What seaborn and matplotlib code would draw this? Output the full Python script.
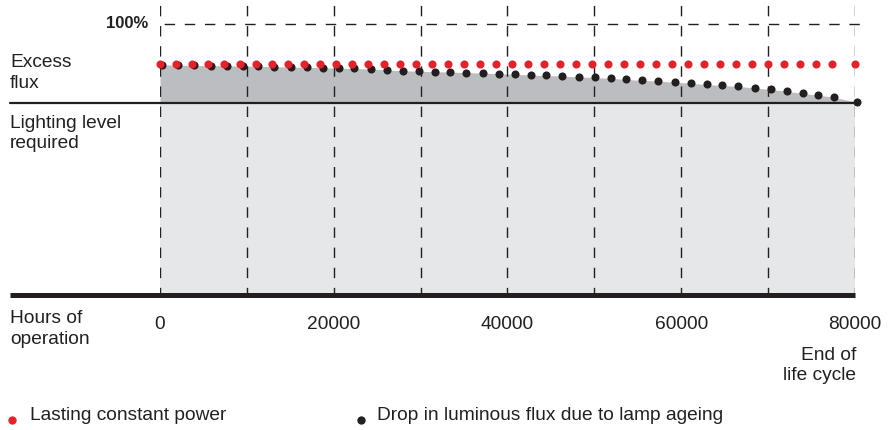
import matplotlib
matplotlib.use("Agg")
import matplotlib.pyplot as plt
import matplotlib.transforms as mtransforms
from matplotlib.lines import Line2D
import pandas as pd
import seaborn as sns

# ── Data ─────────────────────────────────────────────────────────────────────
hours = [0, 1840, 3680, 5530, 7370, 9210, 11050, 12890, 14740, 16580, 18420,
         20260, 22100, 23950, 25790, 27630, 29470, 31310, 33150, 34990, 36840,
         38680, 40520, 42360, 44200, 46040, 47890, 49730, 51570, 53410, 55250,
         57090, 58940, 60780, 62620, 64460, 66300, 68150, 69990, 71830, 73670,
         75510, 77350, 80000]

# constant-power luminaire: flux stays at the same level (% of 100% line)
constant_power = [85.2, 85.2, 85.2, 85.2, 85.2, 85.2, 85.2, 85.2, 85.2, 85.2, 85.2,
                  85.2, 85.2, 85.2, 85.2, 85.2, 85.2, 85.2, 85.2, 85.2, 85.2, 85.2,
                  85.2, 85.2, 85.2, 85.2, 85.2, 85.2, 85.2, 85.2, 85.2, 85.2, 85.2,
                  85.2, 85.2, 85.2, 85.2, 85.2, 85.2, 85.2, 85.2, 85.2, 85.2, 85.2]

# flux drop due to lamp ageing
lamp_ageing = [84.9, 84.8, 84.7, 84.6, 84.6, 84.5, 84.4, 84.3, 84.1, 84.0, 83.9,
               83.7, 83.6, 83.4, 83.1, 82.8, 82.6, 82.4, 82.3, 82.1, 81.9, 81.7,
               81.5, 81.2, 81.0, 80.8, 80.5, 80.3, 80.0, 79.6, 79.2, 79.0, 78.6,
               78.2, 77.7, 77.4, 77.0, 76.5, 75.9, 75.3, 74.5, 73.8, 73.1, 71.3]

required_level = 70.8
full_level = 100
grid_hours = [0, 10000, 20000, 30000, 40000, 50000, 60000, 70000, 80000]
tick_hours = [0, 20000, 40000, 60000, 80000]
tick_labels = ["0", "20000", "40000", "60000", "80000"]

# ── Style ────────────────────────────────────────────────────────────────────
RED = "#e8202a"
BLACK = "#231f20"
DARK_GREY = "#bcbdc0"
LIGHT_GREY = "#e6e7e8"
FONT = 13.8
W, H = 895, 430

sns.set_theme(style="white")
plt.rcParams["font.family"] = ["Liberation Sans", "DejaVu Sans"]

fig = plt.figure(figsize=(W / 100, H / 100), dpi=100)
# axes box in pixels: x 160..855, y 0..295 (from top)
ax = fig.add_axes([160 / W, (H - 295) / H, 695 / W, 295 / H])
ax.set_xlim(0, 80000)
ax.set_ylim(0, 295 / 2.71)
left_ext = -150 / 695  # solid lines reach out to x=10 px

df = pd.DataFrame({"hours": hours, "constant": constant_power, "ageing": lamp_ageing})

# fills
ax.fill_between([0, 80000], 0, required_level, color=LIGHT_GREY, lw=0, zorder=1)
ax.fill_between(df["hours"], required_level, df["ageing"], color=DARK_GREY, lw=0, zorder=1)

# dashed grid
for h in grid_hours:
    ax.axvline(h, ymin=0, ymax=1, color=BLACK, lw=1.0, ls=(2, (7.5, 7.0)), zorder=2)
ax.axhline(full_level, xmin=0, xmax=1.01, color=BLACK, lw=1.0, ls=(-3, (7.5, 7.0)),
           zorder=2, clip_on=False)

# solid lines
ax.axhline(required_level, xmin=left_ext, xmax=1, color=BLACK, lw=1.6, zorder=3, clip_on=False)
ax.axhline(0, xmin=left_ext, xmax=1, color=BLACK, lw=3.6, zorder=3, clip_on=False,
           solid_capstyle="butt")

# dots
shift = mtransforms.offset_copy(ax.transData, fig=fig, x=2.5, y=0, units="dots")
sns.scatterplot(data=df, x="hours", y="ageing", color=BLACK, s=34, linewidth=0,
                ax=ax, zorder=4, clip_on=False, transform=shift)
sns.scatterplot(data=df, x="hours", y="constant", color=RED, s=34, linewidth=0,
                ax=ax, zorder=5, clip_on=False)

sns.despine(ax=ax, left=True, bottom=True)
ax.set_xlabel("")
ax.set_ylabel("")
ax.set_yticks([])
ax.set_xticks(tick_hours)
ax.set_xticklabels(tick_labels, fontsize=FONT, color=BLACK)
ax.tick_params(axis="x", length=0, pad=15)
ax.grid(False)


def ftext(x, y, s, **kw):
    fig.text(x / W, 1 - y / H, s, fontsize=kw.pop("fontsize", FONT), color=BLACK,
             linespacing=1.25, **kw)


ftext(148, 24, "100%", ha="right", va="center", fontweight="bold", fontsize=12)
ftext(10, 73, "Excess\nflux", ha="left", va="center")
ftext(10, 133.5, "Lighting level\nrequired", ha="left", va="center")
ftext(10, 329, "Hours of\noperation", ha="left", va="center")
ftext(856, 365.5, "End of\nlife cycle", ha="right", va="center", multialignment="right")

# legend
fig.add_artist(Line2D([12 / W], [1 - 420 / H], marker="o", color=RED, markersize=6,
                      markeredgewidth=0, transform=fig.transFigure))
ftext(30, 416, "Lasting constant power", ha="left", va="center")
fig.add_artist(Line2D([361 / W], [1 - 420 / H], marker="o", color=BLACK, markersize=6,
                      markeredgewidth=0, transform=fig.transFigure))
ftext(377, 416, "Drop in luminous flux due to lamp ageing", ha="left", va="center")

fig.savefig("out.png", dpi=100)
